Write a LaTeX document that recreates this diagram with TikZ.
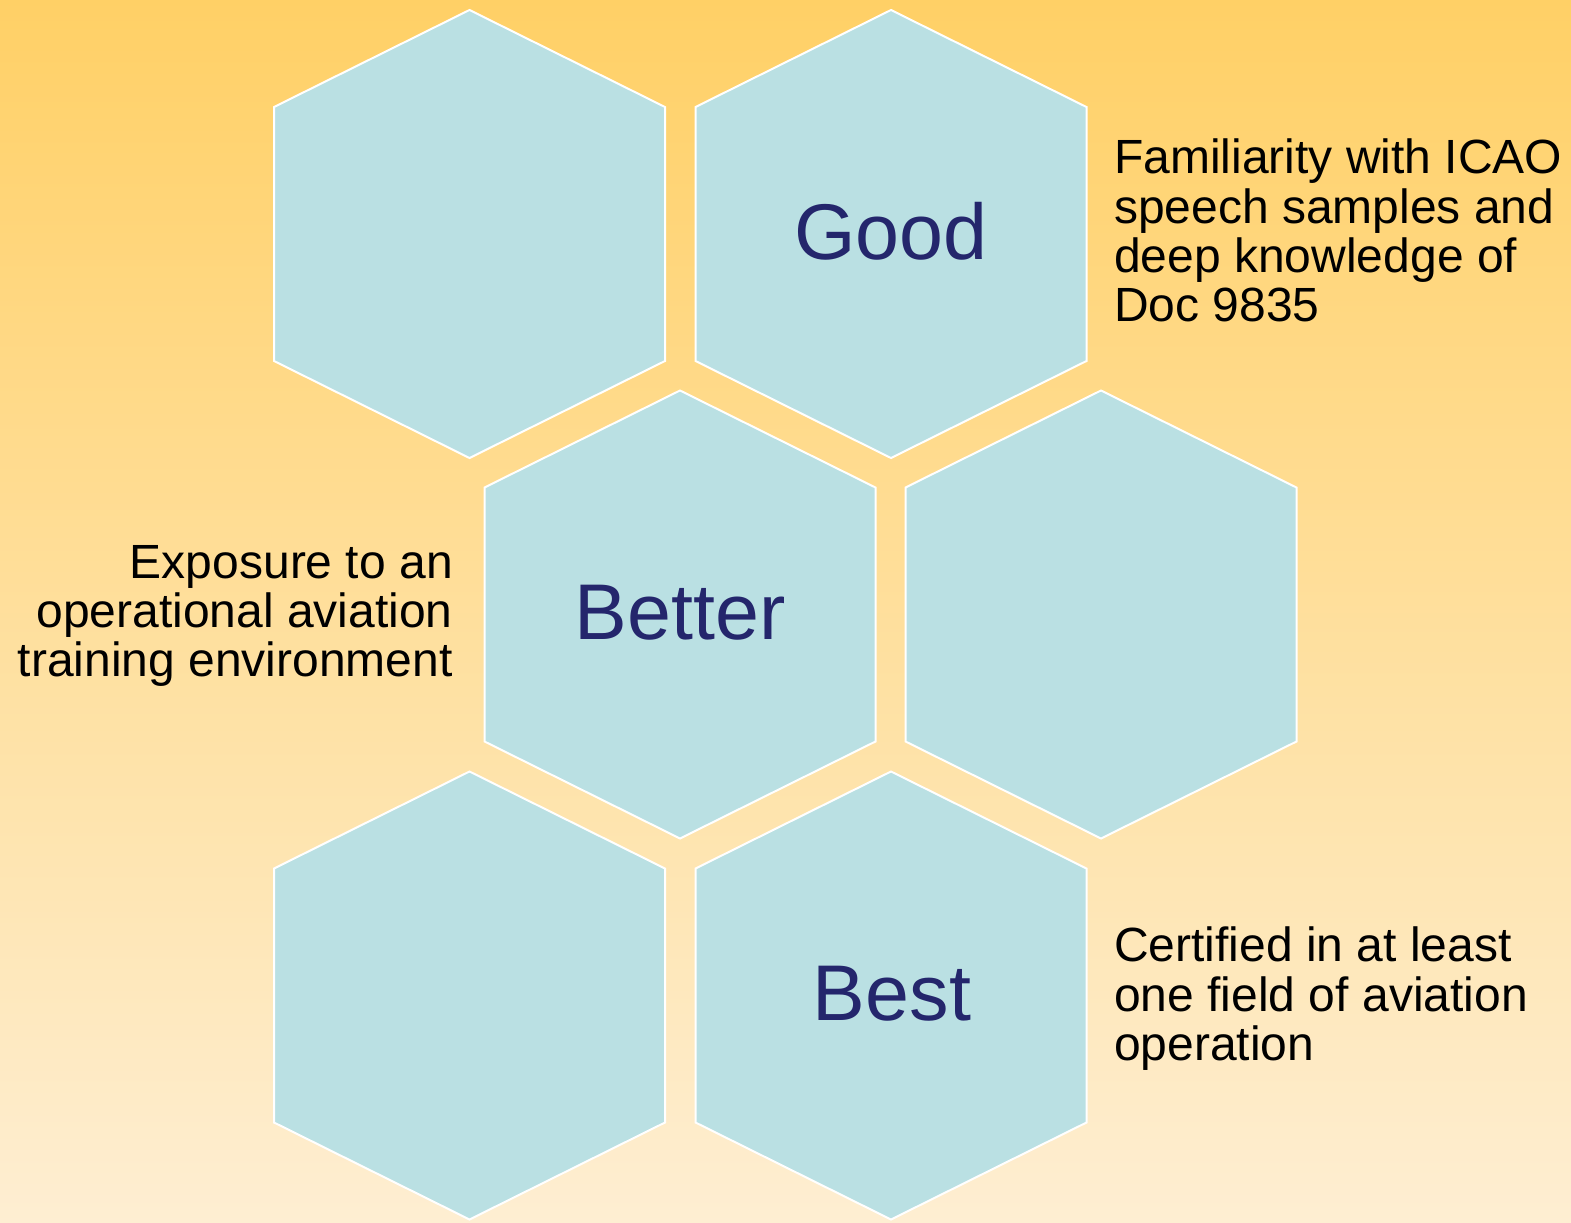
\documentclass[tikz,border=0pt]{standalone}
\usepackage{fontspec}
\setmainfont{Liberation Sans}
\definecolor{bgtop}{RGB}{255,208,102}
\definecolor{bgbot}{RGB}{254,238,210}
\definecolor{hexfill}{RGB}{186,224,227}
\definecolor{navy}{RGB}{36,38,108}
\tikzset{
  hexbox/.style={fill=hexfill, draw=white, line width=2pt, line join=miter},
  biglabel/.style={text=navy, font=\fontsize{79}{80}\selectfont, anchor=base, inner sep=0pt},
  sidelabel/.style={text=black, font=\fontsize{48}{49.3}\selectfont, inner sep=0pt},
}
\newcommand{\hexat}[3]{%
  \draw[hexbox] (#2,#3-224) -- (#2+195.5,#3-127) -- (#2+195.5,#3+127) -- (#2,#3+224) -- (#2-195.5,#3+127) -- (#2-195.5,#3-127) -- cycle;
  \coordinate (#1) at (#2,#3);
}
\begin{document}
\begin{tikzpicture}[x=1pt,y=-1pt]
\shade[top color=bgtop, bottom color=bgbot] (0,0) rectangle (1571,1223);
\useasboundingbox (0,0) rectangle (1571,1223);
\hexat{h1}{469.5}{234}
\hexat{h2}{891}{234}
\hexat{h3}{680}{614.5}
\hexat{h4}{1101}{614.5}
\hexat{h5}{469.5}{995.5}
\hexat{h6}{891}{995.5}
\node[biglabel] (good) at (891,259) {Good};
\node[biglabel] (better) at (680,639) {Better};
\node[biglabel] (best) at (892,1020) {Best};
\node[sidelabel, align=left, anchor=north west] (t1) at (1114,139) {Familiarity with ICAO\\speech samples and\\deep knowledge of\\Doc 9835};
\node[sidelabel, align=right, anchor=north east] (t2) at (453,545) {Exposure to an\\operational aviation\\training environment};
\node[sidelabel, align=left, anchor=north west] (t3) at (1114,927) {Certified in at least\\one field of aviation\\operation};
\end{tikzpicture}
\end{document}
